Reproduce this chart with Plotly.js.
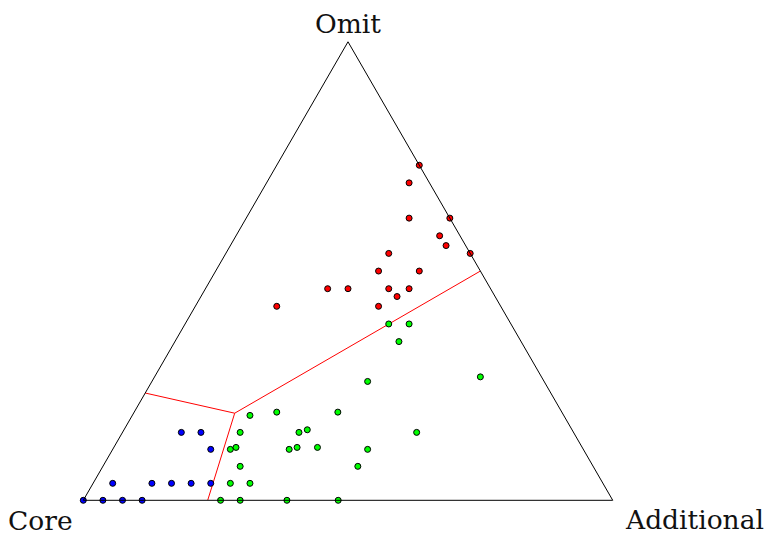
<!DOCTYPE html>
<html>
<head>
<meta charset="utf-8">
<script src="https://cdn.plot.ly/plotly-3.0.1.min.js"></script>
<style>html,body{margin:0;padding:0;background:#fff;}#chart{width:769px;height:537px;}</style>
</head>
<body>
<div id="chart"></div>
<script>
// counts per point: Core, Additional, Omit (normalized by Plotly)
var redCore       = [0, 1, 2, 0, 1, 1, 0, 4, 5, 3, 8, 7, 5, 4, 5, 11, 6];
var redAdditional = [7, 7, 8, 10, 10, 11, 12, 8, 8, 10, 6, 7, 9, 10, 10, 4, 9];
var redOmit       = [19, 18, 16, 16, 15, 15, 14, 14, 13, 13, 12, 12, 12, 12, 12, 11, 11];

var greenCore       = [6, 5, 6, 3, 9, 16, 14, 11, 17, 14, 13, 8, 18, 17, 15, 14, 13, 11, 18, 12, 19, 18, 20, 19, 16, 14];
var greenAdditional = [10, 11, 11, 16, 11, 6, 7, 10, 6, 9, 9, 15, 6, 6, 9, 9, 10, 13, 7, 13, 7, 8, 7, 8, 10, 13];
var greenOmit       = [10, 10, 9, 7, 7, 5, 5, 5, 4, 4, 4, 4, 3, 3, 3, 3, 3, 3, 2, 2, 1, 1, 0, 0, 0, 0];

var blueCore       = [20, 19, 19, 25, 23, 22, 21, 20, 27, 26, 25, 24];
var blueAdditional = [3, 4, 5, 1, 3, 4, 5, 6, 0, 1, 2, 3];
var blueOmit       = [4, 4, 3, 1, 1, 1, 1, 1, 0, 0, 0, 0];

// region boundaries (fractions): left edge -> junction -> right edge, gap, junction -> bottom
var boundaryCore       = [0.766, 0.619, 0.0, null, 0.619, 0.765];
var boundaryAdditional = [0.0, 0.191, 0.5, null, 0.191, 0.235];
var boundaryOmit       = [0.234, 0.190, 0.5, null, 0.190, 0.0];

var labels = ['Omit', 'Core', 'Additional'];

function pts(core, add, omit, color) {
  return {
    type: 'scatterternary', mode: 'markers',
    a: omit, b: core, c: add,
    cliponaxis: false,
    marker: {size: 6, color: color, line: {color: 'black', width: 1}},
    hoverinfo: 'skip'
  };
}

var data = [
  {
    type: 'scatterternary', mode: 'lines',
    a: boundaryOmit, b: boundaryCore, c: boundaryAdditional,
    connectgaps: false,
    line: {color: '#ff0000', width: 1},
    hoverinfo: 'skip'
  },
  pts(redCore, redAdditional, redOmit, '#ff0000'),
  pts(greenCore, greenAdditional, greenOmit, '#00ff00'),
  pts(blueCore, blueAdditional, blueOmit, '#0000ff')
];

var axisStyle = {
  showline: true, linecolor: 'black', linewidth: 1,
  showgrid: false, showticklabels: false, ticks: '', min: 0,
  title: {text: ''}
};

var font = {family: 'DejaVu Serif', size: 26.5, color: '#111'};

var layout = {
  width: 769, height: 537,
  margin: {l: 0, r: 0, t: 0, b: 0},
  paper_bgcolor: 'white',
  showlegend: false,
  ternary: {
    sum: 1,
    domain: {x: [0.1083, 0.7968], y: [0.0683, 0.9222]},
    bgcolor: 'white',
    aaxis: axisStyle, baxis: axisStyle, caxis: axisStyle
  },
  annotations: [
    {text: labels[0], x: 0.4525, y: 0.9560, xref: 'paper', yref: 'paper', xanchor: 'center', yanchor: 'middle', showarrow: false, font: font},
    {text: labels[1], x: 0.0527, y: 0.0315, xref: 'paper', yref: 'paper', xanchor: 'center', yanchor: 'middle', showarrow: false, font: font},
    {text: labels[2], x: 0.9031, y: 0.0335, xref: 'paper', yref: 'paper', xanchor: 'center', yanchor: 'middle', showarrow: false, font: font}
  ]
};

Plotly.newPlot('chart', data, layout, {displayModeBar: false, staticPlot: true});
</script>
</body>
</html>
